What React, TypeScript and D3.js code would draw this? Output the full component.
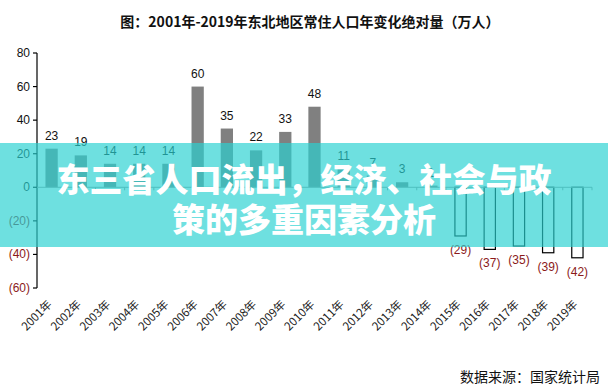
import React from "react";
import * as d3 from "d3";

const years = ["2001年","2002年","2003年","2004年","2005年","2006年","2007年","2008年","2009年","2010年","2011年","2012年","2013年","2014年","2015年","2016年","2017年","2018年","2019年"];
const values = [23, 19, 14, 14, 14, 60, 35, 22, 33, 48, 11, 7, 3, 1, -29, -37, -35, -39, -42];
const yTicks = [80, 60, 40, 20, 0, -20, -40, -60];
const titleText = "图：2001年-2019年东北地区常住人口年变化绝对量（万人）";
const bannerLine1 = "东三省人口流出，经济、社会与政";
const bannerLine2 = "策的多重因素分析";
const sourceText = "数据来源：国家统计局";

const W = 608, H = 391;
const fmt = (v: number) => (v < 0 ? `(${Math.abs(v)})` : `${v}`);

export default function App() {
  const x = d3.scaleBand<string>().domain(years).range([37, 592]).paddingInner(0.58).paddingOuter(0.29);
  const y = d3.scaleLinear().domain([-60, 80]).range([288, 53]);
  const y0 = y(0);
  const step = x.step();
  const numFont = "'Liberation Sans', Arial, sans-serif";
  const cjkFont = "'Noto Sans CJK SC', sans-serif";
  return (
    <svg width={W} height={H} style={{ position: "absolute", left: 0, top: 0, background: "#fff" }}>
      <rect x={0} y={0} width={W} height={H} fill="#fff" />
      <text x={310} y={27} textAnchor="middle" fontFamily={cjkFont} fontWeight={700} fontSize={14} fill="#111">{titleText}</text>
      {/* y axis */}
      <line x1={37} x2={37} y1={y(80)} y2={y(-60)} stroke="#000" strokeWidth={1.2} />
      {yTicks.map((t) => (
        <g key={t}>
          <line x1={33} x2={37} y1={y(t)} y2={y(t)} stroke="#000" strokeWidth={1.2} />
          <text x={30} y={y(t) + 4} textAnchor="end" fontFamily={numFont} fontSize={12} fill={t < 0 ? "#8b1a1a" : "#111"}>{fmt(t)}</text>
        </g>
      ))}
      {/* bars */}
      {years.map((yr, i) => {
        const v = values[i];
        const bx = x(yr)!;
        const bw = x.bandwidth();
        const top = y(Math.max(0, v));
        const h = Math.abs(y(v) - y0);
        return (
          <g key={yr}>
            {v >= 0 ? (
              <rect x={bx} y={top} width={bw} height={h} fill="#808080" />
            ) : (
              <rect x={bx + 0.5} y={y0} width={bw - 1} height={h} fill="#fff" stroke="#000" strokeWidth={1.2} />
            )}
            <text
              x={bx + bw / 2}
              y={v >= 0 ? y(v) - 9 : y(v) + 18}
              textAnchor="middle"
              fontFamily={numFont}
              fontSize={12}
              fill={v >= 0 ? "#111" : "#8b1a1a"}
            >
              {fmt(v)}
            </text>
          </g>
        );
      })}
      {/* zero line with ticks */}
      <line x1={37} x2={592} y1={y0} y2={y0} stroke="#999" strokeWidth={1} />
      {years.map((yr, i) => (
        <line key={"t" + yr} x1={37 + step * (i + 1)} x2={37 + step * (i + 1)} y1={y0} y2={y0 + 3} stroke="#999" />
      ))}
      {/* x labels */}
      {years.map((yr) => {
        const cx = x(yr)! + x.bandwidth() / 2;
        return (
          <text key={"l" + yr} transform={`translate(${cx + 1},${305}) rotate(-45)`} textAnchor="end" fontFamily={cjkFont} fontSize={11.5} fill="#222">{yr}</text>
        );
      })}
      <text x={600} y={382} textAnchor="end" fontFamily={cjkFont} fontSize={14} fill="#111">{sourceText}</text>
      {/* banner overlay */}
      <rect x={0} y={143} width={W} height={104} fill="rgb(42,209,209)" fillOpacity={0.68} />
      <text x={304} y={192} textAnchor="middle" fontFamily={cjkFont} fontWeight={900} fontSize={33} fill="#fff">{bannerLine1}</text>
      <text x={304} y={232} textAnchor="middle" fontFamily={cjkFont} fontWeight={900} fontSize={33} fill="#fff">{bannerLine2}</text>
    </svg>
  );
}
